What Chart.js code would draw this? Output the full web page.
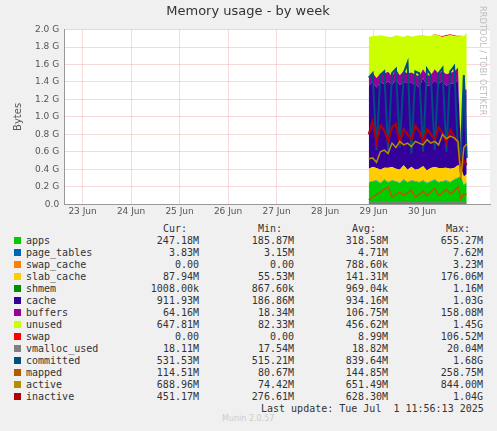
<!DOCTYPE html>
<html>
<head>
<meta charset="utf-8">
<script src="https://cdn.jsdelivr.net/npm/chart.js@4"></script>
<style>
body { margin:0; background:#f0f0f0; width:497px; height:431px; overflow:hidden; position:relative; font-family:"DejaVu Sans", sans-serif; }
#wrap { position:absolute; left:0; top:0; width:497px; height:222px; }
#side { position:absolute; left:478px; top:6px; writing-mode:vertical-rl; font-size:8px; color:#bbb; letter-spacing:0.3px; }
#legend { position:absolute; left:0; top:223px; font-family:"DejaVu Sans Mono", monospace; font-size:10px; color:#333; }
.row { position:absolute; height:12px; white-space:pre; }
.sw { position:absolute; width:7px; height:7px; top:2px; }
.c { position:absolute; text-align:right; width:90px; }
#munin { position:absolute; left:222px; top:414px; font-size:8px; color:#ccc; }
</style>
</head>
<body>
<div id="wrap"><canvas id="memChart" width="497" height="222"></canvas></div>
<div id="side">RRDTOOL / TOBI OETIKER</div>
<div id="legend"></div>
<div id="munin">Munin 2.0.57</div>
<script>
const dayLabels = ["23 Jun", "24 Jun", "25 Jun", "26 Jun", "27 Jun", "28 Jun", "29 Jun", "30 Jun"];
const times = [28.9, 28.98, 29.06, 29.14, 29.22, 29.3, 29.38, 29.46, 29.54, 29.62, 29.7, 29.78, 29.86, 29.94, 30.02, 30.1, 30.18, 30.26, 30.34, 30.42, 30.5, 30.58, 30.66, 30.74, 30.8, 30.86, 30.92];

// stacked areas (G)
const apps       = [0.25, 0.26, 0.27, 0.24, 0.28, 0.25, 0.27, 0.26, 0.24, 0.28, 0.25, 0.27, 0.26, 0.25, 0.27, 0.24, 0.26, 0.28, 0.25, 0.26, 0.27, 0.25, 0.28, 0.30, 0.32, 0.22, 0.25];
const pageTables = [0.005, 0.005, 0.005, 0.005, 0.005, 0.005, 0.005, 0.005, 0.005, 0.005, 0.005, 0.005, 0.005, 0.005, 0.005, 0.005, 0.005, 0.005, 0.005, 0.005, 0.005, 0.005, 0.005, 0.005, 0.005, 0.004, 0.004];
const swapCache  = [0, 0, 0, 0, 0.002, 0.001, 0, 0, 0.001, 0, 0, 0.002, 0, 0, 0.001, 0, 0, 0.001, 0, 0, 0.002, 0, 0, 0.001, 0, 0, 0];
const slabCache  = [0.15, 0.16, 0.14, 0.15, 0.13, 0.16, 0.15, 0.14, 0.15, 0.16, 0.14, 0.15, 0.13, 0.15, 0.16, 0.14, 0.15, 0.14, 0.16, 0.15, 0.14, 0.15, 0.13, 0.14, 0.10, 0.09, 0.09];
const shmem      = [0.001, 0.001, 0.001, 0.001, 0.001, 0.001, 0.001, 0.001, 0.001, 0.001, 0.001, 0.001, 0.001, 0.001, 0.001, 0.001, 0.001, 0.001, 0.001, 0.001, 0.001, 0.001, 0.001, 0.001, 0.001, 0.001, 0.001];
const cache      = [0.95, 0.98, 0.92, 1.0, 0.96, 0.99, 0.94, 1.02, 0.97, 0.95, 1.0, 0.96, 0.98, 0.93, 1.01, 0.97, 0.95, 0.99, 0.96, 1.0, 0.94, 0.98, 0.96, 0.97, 0.19, 0.95, 0.91];
const buffers    = [0.08, 0.1, 0.11, 0.1, 0.12, 0.11, 0.1, 0.12, 0.11, 0.13, 0.1, 0.12, 0.11, 0.13, 0.1, 0.12, 0.11, 0.13, 0.12, 0.11, 0.13, 0.12, 0.14, 0.15, 0.02, 0.05, 0.06];
const unused     = [0.48, 0.42, 0.48, 0.44, 0.43, 0.4, 0.45, 0.39, 0.45, 0.39, 0.44, 0.41, 0.44, 0.47, 0.39, 0.45, 0.45, 0.4, 0.43, 0.39, 0.44, 0.43, 0.41, 0.35, 1.30, 0.61, 0.65];
const swap       = [0, 0, 0, 0, 0, 0, 0, 0, 0, 0, 0, 0, 0, 0, 0, 0, 0, 0.005, 0.005, 0.01, 0.01, 0.01, 0.01, 0.01, 0, 0, 0];

// lines (G)
const vmallocUsed = [0.018, 0.018, 0.019, 0.019, 0.019, 0.019, 0.019, 0.019, 0.019, 0.019, 0.019, 0.019, 0.019, 0.019, 0.019, 0.019, 0.019, 0.019, 0.019, 0.019, 0.019, 0.019, 0.019, 0.019, 0.018, 0.018, 0.018];
const committed   = [1.45, 1.5, 0.62, 1.48, 1.52, 0.6, 1.5, 1.55, 0.65, 1.5, 1.62, 0.58, 1.52, 1.5, 0.6, 1.55, 1.48, 0.62, 1.5, 1.56, 0.6, 1.52, 1.58, 0.62, 0.55, 1.48, 0.53];
const mapped      = [0.05, 0.08, 0.11, 0.14, 0.17, 0.2, 0.08, 0.11, 0.14, 0.1, 0.13, 0.16, 0.08, 0.11, 0.15, 0.1, 0.14, 0.18, 0.1, 0.13, 0.17, 0.12, 0.15, 0.2, 0.06, 0.12, 0.11];
const active      = [0.52, 0.53, 0.48, 0.6, 0.62, 0.58, 0.7, 0.65, 0.72, 0.68, 0.7, 0.66, 0.72, 0.7, 0.68, 0.74, 0.7, 0.72, 0.68, 0.8, 0.75, 0.78, 0.76, 0.72, 0.3, 0.65, 0.69];
const inactive    = [0.8, 0.95, 0.7, 0.9, 0.85, 0.72, 0.88, 0.92, 0.7, 0.86, 0.8, 0.74, 0.9, 0.84, 0.72, 0.86, 0.8, 0.74, 0.88, 0.82, 0.7, 0.85, 0.78, 0.7, 0.35, 0.5, 0.45];

const yTicks = [0, 0.2, 0.4, 0.6, 0.8, 1.0, 1.2, 1.4, 1.6, 1.8, 2.0];

const legendRows = [
  ["apps", "#00cc00", "247.18M", "185.87M", "318.58M", "655.27M"],
  ["page_tables", "#0066b3", "3.83M", "3.15M", "4.71M", "7.62M"],
  ["swap_cache", "#ff8000", "0.00", "0.00", "788.60k", "3.23M"],
  ["slab_cache", "#ffcc00", "87.94M", "55.53M", "141.31M", "176.06M"],
  ["shmem", "#008f00", "1008.00k", "867.60k", "969.04k", "1.16M"],
  ["cache", "#330099", "911.93M", "186.86M", "934.16M", "1.03G"],
  ["buffers", "#990099", "64.16M", "18.34M", "106.75M", "158.08M"],
  ["unused", "#ccff00", "647.81M", "82.33M", "456.62M", "1.45G"],
  ["swap", "#ff0000", "0.00", "0.00", "8.99M", "106.52M"],
  ["vmalloc_used", "#808080", "18.11M", "17.54M", "18.82M", "20.04M"],
  ["committed", "#004d80", "531.53M", "515.21M", "839.64M", "1.68G"],
  ["mapped", "#b35a00", "114.51M", "80.67M", "144.85M", "258.75M"],
  ["active", "#b38f00", "688.96M", "74.42M", "651.49M", "844.00M"],
  ["inactive", "#b30000", "451.17M", "276.61M", "628.30M", "1.04G"]
];

const pts = arr => times.map((t, i) => ({ x: t, y: arr[i] }));

function area(label, arr, color, first) {
  return { label, data: pts(arr), backgroundColor: color, borderColor: color, borderWidth: 0,
    fill: first ? "origin" : "-1", stack: "mem", pointRadius: 0, tension: 0, order: 10 };
}
function line(label, arr, color, w, ord) {
  return { label, data: pts(arr), borderColor: color, backgroundColor: color, borderWidth: w,
    fill: false, stack: label, pointRadius: 0, tension: 0, order: ord };
}

const ctx = document.getElementById("memChart").getContext("2d");
new Chart(ctx, {
  type: "line",
  data: {
    datasets: [
      area("apps", apps, "#00cc00", true),
      area("page_tables", pageTables, "#0066b3"),
      area("swap_cache", swapCache, "#ff8000"),
      area("slab_cache", slabCache, "#ffcc00"),
      area("shmem", shmem, "#008f00"),
      area("cache", cache, "#330099"),
      area("buffers", buffers, "#990099"),
      area("unused", unused, "#ccff00"),
      area("swap", swap, "#ff0000"),
      line("vmalloc_used", vmallocUsed, "#808080", 1, 5),
      line("committed", committed, "#004d80", 2, 4),
      line("mapped", mapped, "#b35a00", 1.5, 1),
      line("active", active, "#b38f00", 1.5, 2),
      line("inactive", inactive, "#b30000", 2, 3)
    ]
  },
  options: {
    responsive: false,
    animation: false,
    layout: { padding: { left: 6, right: 7, top: 0, bottom: 3 } },
    plugins: {
      legend: { display: false },
      tooltip: { enabled: false },
      title: { display: true, text: "Memory usage - by week", color: "#333", font: { family: "DejaVu Sans", size: 13, weight: "normal" }, padding: { top: 4, bottom: 10 } }
    },
    scales: {
      x: {
        type: "linear", min: 22.62, max: 31.4,
        afterBuildTicks: axis => { axis.ticks = dayLabels.map((d, i) => ({ value: 23 + i })); },
        ticks: { callback: (v, i) => dayLabels[i], color: "#555", font: { family: "DejaVu Sans", size: 9 }, maxRotation: 0, padding: 2 },
        grid: { color: "rgba(230,150,150,0.35)", drawTicks: false },
        border: { color: "#999", dash: [] }
      },
      y: {
        stacked: true, min: 0, max: 2.0,
        afterBuildTicks: axis => { axis.ticks = yTicks.map(v => ({ value: v })); },
        ticks: { callback: v => v === 0 ? "0.0" : v.toFixed(1) + " G", color: "#555", font: { family: "DejaVu Sans", size: 9 }, padding: 5 },
        grid: { color: "rgba(230,150,150,0.35)", drawTicks: false },
        border: { color: "#999", dash: [] },
        title: { display: true, text: "Bytes", color: "#555", font: { family: "DejaVu Sans", size: 10 }, padding: 6 }
      }
    }
  },
  plugins: [{
    id: "plotBg",
    beforeDraw(chart) {
      const a = chart.chartArea, c = chart.ctx;
      c.save(); c.fillStyle = "#ffffff"; c.fillRect(a.left, a.top, a.right - a.left, a.bottom - a.top); c.restore();
    }
  }]
});

const leg = document.getElementById("legend");
let head = '<div class="row" style="top:0px">';
["Cur:", "Min:", "Avg:", "Max:"].forEach((h, i) => {
  head += '<span class="c" style="left:' + [110, 205, 299, 393][i] + 'px;width:77px">' + h + '</span>';
});
leg.innerHTML = head + "</div>";
legendRows.forEach((r, k) => {
  const top = 12 + k * 12;
  let h = '<div class="row" style="top:' + top + 'px;width:497px"><span class="sw" style="left:14px;background:' + r[1] + '"></span><span style="position:absolute;left:26px">' + r[0] + '</span>';
  [199, 294, 388, 483].forEach((x, i) => { h += '<span class="c" style="left:' + (x - 90) + 'px">' + r[i + 2] + '</span>'; });
  leg.innerHTML += h + "</div>";
});
leg.innerHTML += '<div class="row" style="top:' + (12 + 14 * 12) + 'px;left:261px">Last update: Tue Jul  1 11:56:13 2025</div>';
</script>
</body>
</html>
